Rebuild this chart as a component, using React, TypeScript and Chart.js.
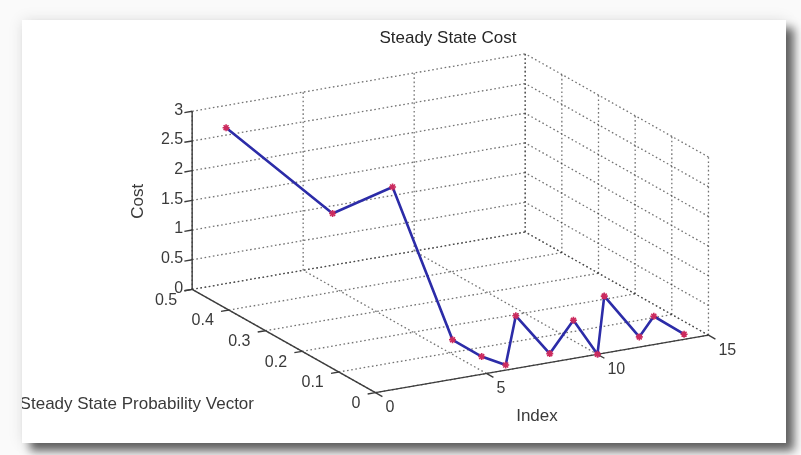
import React, { useEffect, useRef } from "react";
import { Chart, registerables } from "chart.js";

Chart.register(...registerables);

// ---- data ----
const indexValues = [1, 2, 3, 4, 5, 6, 7, 8, 9, 10, 11, 12, 13, 14];
const probValues = [0.468, 0.238, 0.135, 0.032, 0.013, 0.008, 0.041, 0.009, 0.005, 0.0, 0.042, 0.007, 0.028, 0.006];
const costValues = [2.77, 2.06, 2.8, 0.52, 0.24, 0.05, 0.7, 0.11, 0.62, 0.0, 0.77, 0.14, 0.35, 0.06];

const indexTicks = [0, 5, 10, 15];
const indexTickLabels = ["0", "5", "10", "15"];
const probTicks = [0, 0.1, 0.2, 0.3, 0.4, 0.5];
const probTickLabels = ["0", "0.1", "0.2", "0.3", "0.4", "0.5"];
const costTicks = [0, 0.5, 1, 1.5, 2, 2.5, 3];
const costTickLabels = ["0", "0.5", "1", "1.5", "2", "2.5", "3"];

const titleText = "Steady State Cost";
const indexLabel = "Index";
const probLabel = "Steady State Probability Vector";
const costLabel = "Cost";

// ---- 3D view (screen units per data unit) ----
const I_MIN = 0, I_MAX = 15, P_MIN = 0, P_MAX = 0.5, C_MIN = 0, C_MAX = 3;
const VIEW = { ix: 338 / 15, iy: 59 / 15, px: -372, py: 212, cz: 61 };
const project = (i: number, p: number, c: number) => ({
  x: i * VIEW.ix + p * VIEW.px,
  y: i * VIEW.iy + p * VIEW.py + c * VIEW.cz,
});

const W = 764;
const H = 423;
const X_MIN = -353, X_MAX = X_MIN + W;
const Y_MAX = 377, Y_MIN = Y_MAX - H;

const FONT = '"Liberation Sans", Arial, Helvetica, sans-serif';

type P3 = [number, number, number];

function segDataset(a: P3, b: P3, kind: "grid" | "axis") {
  const pa = project(a[0], a[1], a[2]);
  const pb = project(b[0], b[1], b[2]);
  return {
    type: "scatter" as const,
    data: [pa, pb],
    showLine: true,
    pointRadius: 0,
    borderColor: kind === "grid" ? "rgba(55,55,55,0.7)" : "#3c3c3c",
    borderWidth: kind === "grid" ? 1.3 : 1.4,
    borderDash: kind === "grid" ? [1.6, 2.6] : [],
    order: kind === "grid" ? 3 : 2,
  };
}

function buildDatasets() {
  const ds: any[] = [];
  // grid lines
  indexTicks.forEach((t) => {
    ds.push(segDataset([t, P_MIN, C_MIN], [t, P_MAX, C_MIN], "grid"));
    ds.push(segDataset([t, P_MAX, C_MIN], [t, P_MAX, C_MAX], "grid"));
  });
  probTicks.forEach((q) => {
    ds.push(segDataset([I_MIN, q, C_MIN], [I_MAX, q, C_MIN], "grid"));
    ds.push(segDataset([I_MAX, q, C_MIN], [I_MAX, q, C_MAX], "grid"));
  });
  costTicks.forEach((c) => {
    ds.push(segDataset([I_MIN, P_MAX, c], [I_MAX, P_MAX, c], "grid"));
    ds.push(segDataset([I_MAX, P_MIN, c], [I_MAX, P_MAX, c], "grid"));
  });
  // axes
  ds.push(segDataset([I_MIN, P_MIN, C_MIN], [I_MAX, P_MIN, C_MIN], "axis"));
  ds.push(segDataset([I_MIN, P_MIN, C_MIN], [I_MIN, P_MAX, C_MIN], "axis"));
  ds.push(segDataset([I_MIN, P_MAX, C_MIN], [I_MIN, P_MAX, C_MAX], "axis"));
  // tick marks
  indexTicks.forEach((t) => ds.push(segDataset([t, P_MIN, C_MIN], [t, P_MIN - 0.019, C_MIN], "axis")));
  probTicks.forEach((q) => ds.push(segDataset([I_MIN, q, C_MIN], [I_MIN - 0.35, q, C_MIN], "axis")));
  costTicks.forEach((c) => ds.push(segDataset([I_MIN, P_MAX, c], [I_MIN - 0.35, P_MAX, c], "axis")));
  // data line
  ds.push({
    type: "scatter",
    data: indexValues.map((i, k) => project(i, probValues[k], costValues[k])),
    showLine: true,
    borderColor: "#2c2ca8",
    borderWidth: 2.6,
    pointStyle: "star",
    pointRadius: 3.5,
    pointBorderWidth: 1.6,
    pointBorderColor: "#cc2b5e",
    pointBackgroundColor: "#cc2b5e",
    order: 0,
  });
  return ds;
}

const labelsPlugin = {
  id: "labels3d",
  afterDraw(chart: any) {
    const ctx: CanvasRenderingContext2D = chart.ctx;
    const sx = chart.scales.x;
    const sy = chart.scales.y;
    const px = (i: number, p: number, c: number) => {
      const v = project(i, p, c);
      return { x: sx.getPixelForValue(v.x), y: sy.getPixelForValue(v.y) };
    };
    ctx.save();
    ctx.fillStyle = "#3a3a3a";
    ctx.font = `16px ${FONT}`;
    // cost ticks
    ctx.textAlign = "right";
    ctx.textBaseline = "middle";
    costTicks.forEach((c, k) => {
      const a = px(I_MIN, P_MAX, c);
      ctx.fillText(costTickLabels[k], a.x - 9, a.y - 1);
    });
    // prob ticks
    probTicks.forEach((q, k) => {
      const a = px(I_MIN, q, C_MIN);
      ctx.fillText(probTickLabels[k], a.x - 15, a.y + 11);
    });
    // index ticks
    ctx.textAlign = "left";
    indexTicks.forEach((t, k) => {
      const a = px(t, P_MIN, C_MIN);
      ctx.fillText(indexTickLabels[k], a.x + 10, a.y + 15);
    });
    // axis titles
    ctx.font = `17px ${FONT}`;
    ctx.textAlign = "center";
    const im = px((I_MIN + I_MAX) / 2, P_MIN, C_MIN);
    ctx.fillText(indexLabel, im.x - 5, im.y + 52);
    const pm = px(I_MIN, (P_MIN + P_MAX) / 2, C_MIN);
    ctx.fillText(probLabel, pm.x - 147, pm.y + 63);
    const cm = px(I_MIN, P_MAX, (C_MIN + C_MAX) / 2);
    ctx.save();
    ctx.translate(cm.x - 54, cm.y + 1);
    ctx.rotate(-Math.PI / 2);
    ctx.fillText(costLabel, 0, 0);
    ctx.restore();
    // title
    ctx.fillStyle = "#262626";
    ctx.fillText(titleText, chart.width * 0.5575, 18);
    ctx.restore();
  },
};

export default function App() {
  const ref = useRef<HTMLCanvasElement | null>(null);
  useEffect(() => {
    if (!ref.current) return;
    const chart = new Chart(ref.current, {
      type: "scatter",
      data: { datasets: buildDatasets() },
      options: {
        animation: false,
        responsive: false,
        maintainAspectRatio: false,
        events: [],
        layout: { padding: 0 },
        plugins: {
          legend: { display: false },
          tooltip: { enabled: false },
          title: { display: false },
        },
        scales: {
          x: { type: "linear", min: X_MIN, max: X_MAX, display: false },
          y: { type: "linear", min: Y_MIN, max: Y_MAX, display: false },
        },
      },
      plugins: [labelsPlugin],
    } as any);
    return () => chart.destroy();
  }, []);

  return (
    <div
      style={{
        position: "fixed",
        left: 0,
        top: 0,
        width: 801,
        height: 455,
        background: "#fafafa",
        overflow: "hidden",
      }}
    >
      <div
        style={{
          position: "absolute",
          left: 22,
          top: 20,
          width: W,
          height: H,
          background: "#ffffff",
          boxShadow: "0 0 14px rgba(0,0,0,0.10), 8px 8px 9px rgba(0,0,0,0.6)",
          overflow: "hidden",
        }}
      >
        <canvas ref={ref} width={W} height={H} style={{ width: W, height: H, display: "block" }} />
      </div>
    </div>
  );
}
